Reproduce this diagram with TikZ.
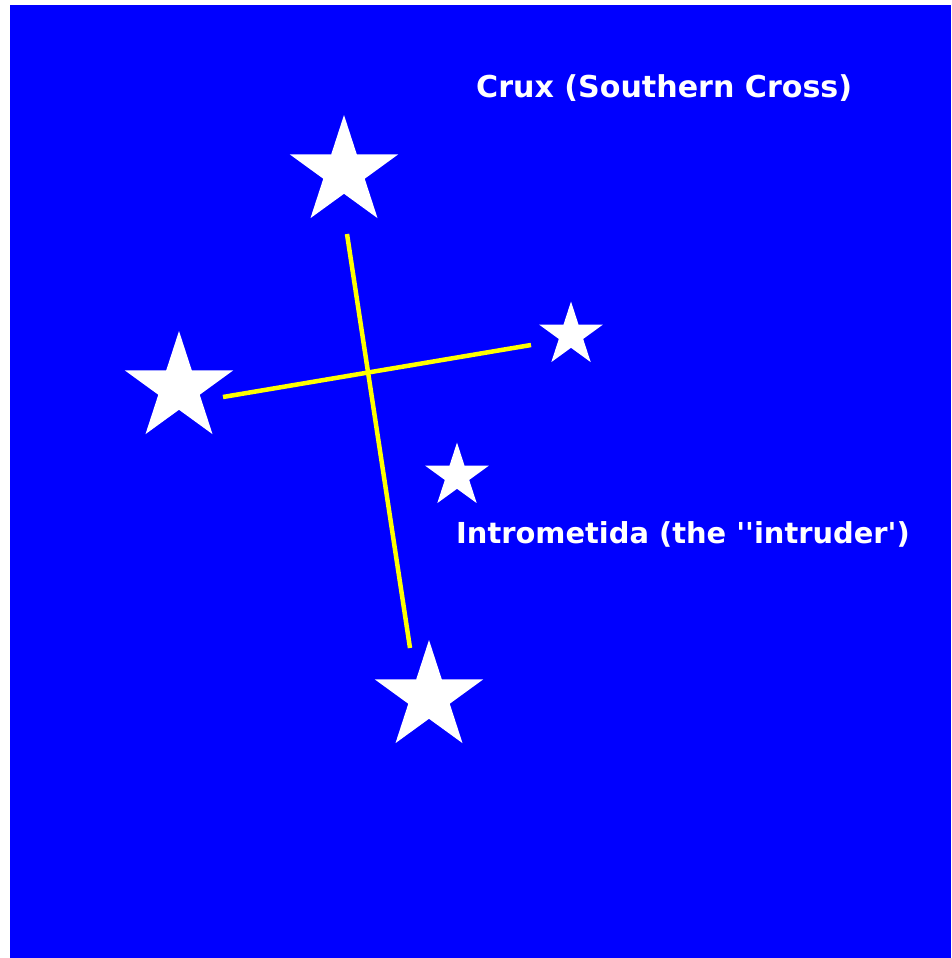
\documentclass[tikz,border=0pt]{standalone}
\usepackage{fontspec}
\newfontfamily\skyfont{DejaVu Sans}
\usepackage{tikz}
\usetikzlibrary{shapes.geometric}
\definecolor{nightblue}{RGB}{0,0,255}
\definecolor{crossyellow}{RGB}{255,255,0}

\tikzset{
  crossstar/.style={star, star points=5, star point ratio=2.618, fill=white, draw=none, inner sep=0pt},
  bigstar/.style={crossstar, minimum size=114pt},
  smallstar/.style={crossstar, minimum size=67pt},
  crossline/.style={crossyellow, line width=4.5pt},
  skylabel/.style={white, anchor=base west, inner sep=0pt, font={\skyfont\bfseries\fontsize{#1}{35}\selectfont}}
}

\begin{document}
\begin{tikzpicture}[x=1pt,y=-1pt]
        \useasboundingbox (0, 0) rectangle (951, 958);
        \fill[nightblue] (10, 5) rectangle (951, 958);
        % stars
        \node[bigstar] (gacrux) at (344, 172) {};
        \node[bigstar] (becrux) at (179, 388) {};
        \node[bigstar] (acrux) at (429, 697) {};
        \node[smallstar] (deltacrux) at (571, 335) {};
        \node[smallstar] (intrometida) at (457, 476) {};
        % the cross
        \coordinate (vtop) at (347, 234);
        \coordinate (vbot) at (410, 648);
        \coordinate (hleft) at (223, 397);
        \coordinate (hright) at (531, 345);
        \draw[crossline] (vtop) -- (vbot);
        \draw[crossline] (hleft) -- (hright);
        % labels
        \node[skylabel=30.1] (title) at (476, 97) {Crux (Southern Cross)};
        \node[skylabel=28.9] (intruder) at (456, 543) {Intrometida (the \textquotesingle\textquotesingle intruder\textquotesingle)};
    \end{tikzpicture}
\end{document}
